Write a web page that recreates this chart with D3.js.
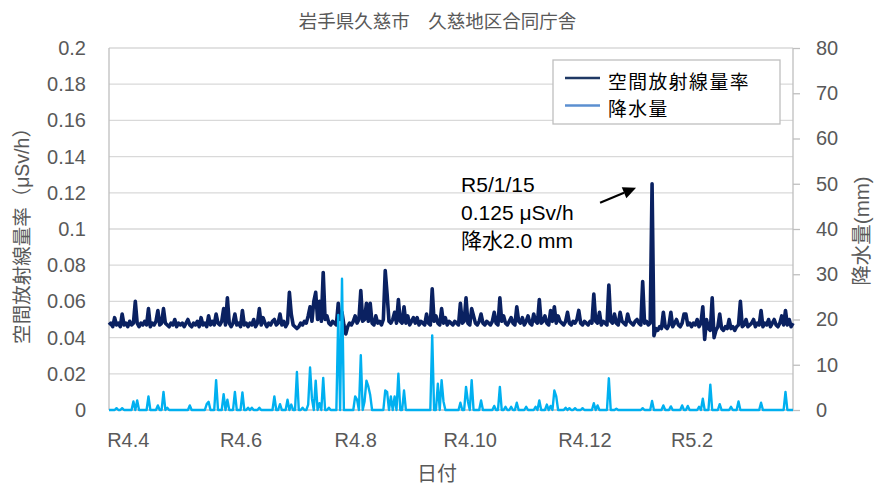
<!DOCTYPE html>
<html><head><meta charset="utf-8">
<script src="https://cdn.jsdelivr.net/npm/d3@7"></script>
<style>body{margin:0;background:#fff}svg{display:block}</style>
</head><body>
<svg id="c" width="875" height="487"></svg>
<script>
// ---------- data ----------
const startDate = "2022-04-01"; // first day of the daily series (R4.4.1)
const titleText = "岩手県久慈市　久慈地区合同庁舎";
const seriesNames = ["空間放射線量率", "降水量"];
const leftAxisTitle = "空間放射線量率（μSv/h）";
const rightAxisTitle = "降水量(mm)";
const xAxisTitle = "日付";
const doseTicks = [0, 0.02, 0.04, 0.06, 0.08, 0.1, 0.12, 0.14, 0.16, 0.18, 0.2];
const rainTicks = [0, 10, 20, 30, 40, 50, 60, 70, 80];
const xTickDates = ["2022-04-11", "2022-06-10", "2022-08-10", "2022-10-10", "2022-12-10", "2023-02-05"];
const xTickLabels = ["R4.4", "R4.6", "R4.8", "R4.10", "R4.12", "R5.2"];
const noteLines = ["R5/1/15", "0.125 μSv/h", "降水2.0 mm"];

// daily air dose rate (μSv/h)
const doseRate = [
0.047,0.048,0.046,0.051,0.047,0.048,0.046,0.053,0.047,0.048,
0.046,0.049,0.047,0.048,0.060,0.048,0.046,0.048,0.047,0.049,
0.047,0.056,0.046,0.048,0.047,0.049,0.055,0.047,0.048,0.056,
0.048,0.047,0.046,0.048,0.047,0.050,0.046,0.048,0.047,0.048,
0.046,0.048,0.050,0.047,0.046,0.048,0.047,0.049,0.046,0.051,
0.047,0.048,0.046,0.052,0.047,0.049,0.047,0.053,0.048,0.047,
0.049,0.056,0.047,0.062,0.048,0.046,0.048,0.053,0.047,0.048,
0.046,0.055,0.047,0.048,0.046,0.048,0.047,0.050,0.046,0.048,
0.056,0.047,0.051,0.048,0.046,0.048,0.047,0.049,0.050,0.047,
0.048,0.053,0.047,0.049,0.046,0.048,0.065,0.053,0.047,0.046,
0.045,0.046,0.048,0.047,0.049,0.048,0.052,0.057,0.049,0.060,
0.065,0.050,0.060,0.049,0.076,0.050,0.052,0.048,0.047,0.049,
0.048,0.047,0.059,0.050,0.054,0.047,0.042,0.046,0.048,0.047,
0.049,0.052,0.048,0.050,0.066,0.049,0.050,0.059,0.049,0.059,
0.048,0.047,0.052,0.048,0.049,0.047,0.050,0.077,0.064,0.049,
0.048,0.050,0.054,0.048,0.061,0.049,0.048,0.057,0.048,0.052,
0.047,0.049,0.051,0.048,0.051,0.047,0.049,0.048,0.047,0.053,
0.048,0.047,0.067,0.049,0.052,0.048,0.047,0.056,0.048,0.051,
0.047,0.049,0.048,0.047,0.049,0.048,0.047,0.059,0.048,0.049,
0.062,0.048,0.047,0.056,0.052,0.048,0.047,0.049,0.053,0.048,
0.047,0.049,0.048,0.047,0.049,0.054,0.048,0.047,0.062,0.049,
0.052,0.048,0.047,0.049,0.051,0.048,0.047,0.057,0.049,0.048,
0.051,0.047,0.049,0.052,0.048,0.047,0.053,0.049,0.048,0.061,
0.048,0.049,0.052,0.048,0.047,0.055,0.049,0.057,0.048,0.052,
0.049,0.048,0.047,0.049,0.054,0.048,0.047,0.049,0.048,0.050,
0.055,0.048,0.047,0.049,0.048,0.047,0.049,0.048,0.064,0.049,
0.048,0.054,0.047,0.049,0.048,0.047,0.069,0.049,0.048,0.053,
0.048,0.047,0.054,0.049,0.048,0.047,0.053,0.049,0.048,0.047,
0.049,0.050,0.048,0.047,0.071,0.048,0.049,0.047,0.048,0.125,
0.041,0.045,0.044,0.046,0.045,0.054,0.046,0.045,0.047,0.054,
0.046,0.048,0.050,0.047,0.046,0.048,0.053,0.053,0.047,0.048,
0.046,0.048,0.047,0.050,0.046,0.048,0.057,0.039,0.050,0.045,
0.044,0.062,0.040,0.044,0.046,0.053,0.045,0.044,0.046,0.045,
0.050,0.045,0.046,0.044,0.046,0.047,0.060,0.046,0.047,0.050,
0.046,0.047,0.048,0.050,0.046,0.048,0.047,0.055,0.046,0.048,
0.047,0.050,0.046,0.048,0.050,0.047,0.046,0.048,0.052,0.047,
0.055,0.047,0.050,0.046,0.048
];

// daily precipitation (mm)
const rainfall = [
0,0,0,0,0.4,0,0,0.4,0,0,
0,0,0,1.9,0,2.1,0,0,0,0,
0,3.0,0,0,0,0,1.0,0,0,4.0,
0,0.5,0,0,0,0,0,0,0,0,
0,0,0,1.0,0,0,0,0,0,0,
0,0,1.3,1.8,0,0,0,6.6,0,0,
0,3.5,0,2.3,0,0,0,4.0,0,0,
0,3.9,0,0,0.5,0,0.5,0,0,0,
0.5,0,0,0,0,0,0,0,3.0,0,
0,1.3,0,0,0,2.3,0,1.2,0,0,
8.4,0,0,0.5,0,0,1.2,9.4,2.5,0,
6.5,0,1.5,0,7.1,0,0,0.5,0,0,
0,0,21,0,29,0,0,0,0,0,
0,3.0,2.3,0,12.1,0,1.9,6.5,5.2,3.3,
0,0,0,0,0,0,0,4.3,4.0,0,
3.0,0,3.0,0,8.0,0,0,4.3,0,0,
0,0,0,0,0,0,0,0,0,0,
0,0,16.5,0,0,5.8,0,6.6,1.9,0,
0,0,0,0,0,0,0,1.6,0,0,
5.1,1.9,0,6.6,0,0,0,0,2.1,0,
0,0,0,0,0,0.9,0,0,5.1,0,
0,0.7,0,0,0.7,0,0,1.6,0,0,
0,0,0.7,0,0,0,0,0.7,0,2.1,
0,0,0,1.2,0,0.9,0,4.3,3.0,0,
0,0,0,0.5,0,0.4,0,0,0.4,0,
0,0,0.4,0,0,0,0,0,1.5,0,
1.0,0,0,0,0,0,7.0,0,0,0,
0.3,0,0,0,0,0,0,0,0,0,
0,0,0,0,0.4,0,0,0,0,2.0,
0,0,0,0,0,1.0,0,0,0,0.8,
0,0,0,0,0,1.0,0,0,0.9,0,
0,0,0,0,0.7,0,2.5,0,0,0,
5.6,0,0,0,0,1.3,0,0,0,0,
0,0.7,0,0,0,1.9,0,0,0,0,
0,0,0,0,0,0,0,1.6,0,0,
0,0,0,0,0,0,0,0,0,0,
4.0,0,0,0,0
];

// ---------- drawing ----------
const W = 875, H = 487;
const M = {left: 109, right: 793, top: 48, bottom: 410};
const svg = d3.select("#c");
const latin = "'Liberation Sans', 'Noto Sans CJK JP', sans-serif";
const cjk = "'Noto Sans CJK JP', 'Liberation Sans', sans-serif";
const grey = "#595959";

const parse = d3.utcParse("%Y-%m-%d");
const start = parse(startDate);
const dates = doseRate.map((_, i) => d3.utcDay.offset(start, i));

const x = d3.scaleUtc().domain([dates[0], dates[dates.length - 1]]).range([M.left, M.right]);
const yL = d3.scaleLinear().domain([0, 0.2]).range([M.bottom, M.top]);
const yR = d3.scaleLinear().domain([0, 80]).range([M.bottom, M.top]);

// gridlines
svg.append("g").selectAll("line").data(doseTicks.filter(d => d > 0)).join("line")
  .attr("x1", M.left).attr("x2", M.right)
  .attr("y1", d => yL(d)).attr("y2", d => yL(d))
  .attr("stroke", "#d9d9d9").attr("stroke-width", 1.3);

// axis lines
svg.append("line").attr("x1", M.left).attr("x2", M.left).attr("y1", M.top).attr("y2", M.bottom)
  .attr("stroke", "#bfbfbf").attr("stroke-width", 1.3);
svg.append("line").attr("x1", M.right).attr("x2", M.right).attr("y1", M.top).attr("y2", M.bottom)
  .attr("stroke", "#bfbfbf").attr("stroke-width", 1.3);
svg.append("line").attr("x1", M.left).attr("x2", M.right).attr("y1", M.bottom).attr("y2", M.bottom)
  .attr("stroke", "#bfbfbf").attr("stroke-width", 1.3);

// left axis
const gL = svg.append("g").attr("transform", `translate(${M.left},0)`)
  .call(d3.axisLeft(yL).tickValues(doseTicks).tickFormat(d => String(+d.toFixed(2))).tickSize(0).tickPadding(23));
gL.select(".domain").remove();
gL.selectAll("text").attr("font-family", latin).attr("font-size", 20).attr("fill", grey);

// right axis
const gR = svg.append("g").attr("transform", `translate(${M.right},0)`)
  .call(d3.axisRight(yR).tickValues(rainTicks).tickSize(7).tickPadding(16));
gR.select(".domain").remove();
gR.selectAll("line").attr("stroke", "#bfbfbf").attr("stroke-width", 1.3);
gR.selectAll("text").attr("font-family", latin).attr("font-size", 20).attr("fill", grey);

// bottom axis
const gB = svg.append("g").attr("transform", `translate(0,${M.bottom})`)
  .call(d3.axisBottom(x).tickValues(xTickDates.map(parse)).tickFormat((d, i) => xTickLabels[i]).tickSize(0).tickPadding(23));
gB.select(".domain").remove();
gB.selectAll("text").attr("font-family", latin).attr("font-size", 20).attr("fill", grey);

// series
const doseLine = d3.line().x((d, i) => x(dates[i])).y(d => yL(d));
svg.append("path").datum(doseRate).attr("d", doseLine)
  .attr("fill", "none").attr("stroke", "#0a2161").attr("stroke-width", 3.6)
  .attr("stroke-linejoin", "round");
const rainLine = d3.line().x((d, i) => x(dates[i])).y(d => yR(d));
svg.append("path").datum(rainfall).attr("d", rainLine)
  .attr("fill", "none").attr("stroke", "#00b0f0").attr("stroke-width", 2.4)
  .attr("stroke-linejoin", "round");

// title & axis titles
svg.append("text").attr("x", W / 2).attr("y", 20).attr("text-anchor", "middle")
  .attr("dominant-baseline", "central").attr("font-family", cjk).attr("font-size", 18.5)
  .attr("fill", grey).text(titleText);
svg.append("text").attr("transform", "translate(22,231) rotate(-90)").attr("text-anchor", "middle")
  .attr("dominant-baseline", "central").attr("font-family", latin).attr("font-size", 19.5)
  .attr("fill", grey).text(leftAxisTitle);
svg.append("text").attr("transform", "translate(861,231) rotate(-90)").attr("text-anchor", "middle")
  .attr("dominant-baseline", "central").attr("font-family", latin).attr("font-size", 20.5)
  .attr("fill", grey).text(rightAxisTitle);
svg.append("text").attr("x", (M.left + M.right) / 2 - 14).attr("y", 472).attr("text-anchor", "middle")
  .attr("dominant-baseline", "central").attr("font-family", cjk).attr("font-size", 20)
  .attr("fill", grey).text(xAxisTitle);

// legend
const lg = svg.append("g").attr("transform", "translate(553,60)");
lg.append("rect").attr("width", 227).attr("height", 64).attr("fill", "#fff")
  .attr("stroke", "#bfbfbf").attr("stroke-width", 1.3);
const legendColors = ["#1f3864", "#5b8fd0"];
seriesNames.forEach((name, i) => {
  const yy = 18 + i * 27.5;
  lg.append("line").attr("x1", 12).attr("x2", 47).attr("y1", yy).attr("y2", yy)
    .attr("stroke", legendColors[i]).attr("stroke-width", 2.5);
  lg.append("text").attr("x", 55).attr("y", yy + 2).attr("dominant-baseline", "central")
    .attr("font-family", cjk).attr("font-size", 18.8).attr("letter-spacing", 1.5)
    .attr("fill", "#000").text(name);
});

// annotation
const pk = d3.maxIndex(doseRate);
const px = x(dates[pk]), py = yL(doseRate[pk]);
const note = svg.append("g");
noteLines.forEach((t, i) => {
  note.append("text").attr("x", px - 191).attr("y", py + 1 + i * 28)
    .attr("dominant-baseline", "central").attr("font-family", latin).attr("font-size", 21)
    .attr("fill", "#000").text(t);
});
const ax1 = px - 52, ay1 = py + 19, ax2 = px - 16, ay2 = py + 4;
const len = Math.hypot(ax2 - ax1, ay2 - ay1), ux = (ax2 - ax1) / len, uy = (ay2 - ay1) / len;
const hl = 13, hw = 6;
note.append("line").attr("x1", ax1).attr("y1", ay1).attr("x2", ax2 - ux * hl).attr("y2", ay2 - uy * hl)
  .attr("stroke", "#000").attr("stroke-width", 2);
note.append("polygon").attr("points", [
  [ax2, ay2],
  [ax2 - ux * hl - uy * hw, ay2 - uy * hl + ux * hw],
  [ax2 - ux * hl + uy * hw, ay2 - uy * hl - ux * hw]
].map(p => p.join(",")).join(" ")).attr("fill", "#000");
</script>
</body></html>
